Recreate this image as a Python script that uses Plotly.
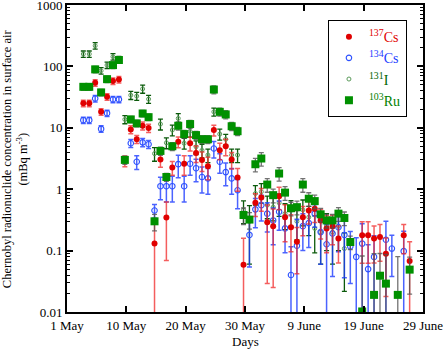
import plotly.graph_objects as go

# measurement days (day 0 = tick "1 May")
days = [2.75, 3.75, 4.75, 5.75, 6.75, 7.75, 8.75, 9.75, 10.75, 11.75,
        12.75, 13.75, 14.75, 15.75, 16.75, 17.75, 18.75, 19.75, 20.75, 21.75,
        22.75, 23.75, 24.75, 25.75, 26.75, 27.75, 28.75, 29.75, 30.75, 31.75,
        32.75, 33.75, 34.75, 35.75, 36.75, 37.75, 38.75, 39.75, 40.75, 41.75,
        42.75, 43.75, 44.75, 45.75, 46.75, 47.75, 48.75, 49.75, 50.75, 51.75,
        52.75, 53.75, 54.75, 55.75, 56.75, 57.75]

# concentrations (mBq m^-3), None = no measurement
cs137 = [25, 25, 54, 18.2, 32, 57.7, 61, 2.9, 9.4, 6.5,
         10.8, 9.9, 0.13, 3.05, 0.345, 2.26, 5.9, 2.6, 5.6, 3.9,
         3.0, 2.37, 9.2, 4.3, 5.0, 3.05, 1.55, 0.059, None, 0.60,
         0.73, 0.29, 0.25, 0.77, 0.35, 0.24, 0.14, 0.35, 0.45, 0.48,
         0.31, 0.23, 0.25, 0.157, None, None, None, 0.178, 0.178, 0.157,
         0.167, 0.089, None, None, 0.178, 0.068]
cs137_err_pct = [12, 12, 12, 12, 12, 12, 12, 20, 15, 15,
                 15, 15, 110, 25, 80, 25, 20, 35, 25, 30,
                 35, 40, 20, 30, 30, 30, 40, 170, 0, 40,
                 40, 90, 90, 40, 60, 60, 70, 50, 40, 40,
                 50, 60, 50, 60, 0, 0, 0, 65, 65, 60,
                 60, 80, 0, 0, 50, 105]

cs134 = [13.3, 13.3, 30, 9.6, 17.3, 29, 29, None, 5.6, 2.8,
         5.8, 5.4, 0.45, 1.12, 1.12, 1.12, 2.56, 1.12, 2.6, 2.2,
         1.58, 1.5, 4.6, 2.8, 1.9, 1.5, 0.96, None, 0.18, 0.47,
         0.55, 0.40, 0.31, 0.43, 0.23, 0.040, 0.12, 0.25, 0.28, 0.40,
         0.20, 0.127, 0.19, 0.24, 0.18, 0.117, 0.079, 0.13, 0.050, 0.079,
         None, 0.15, 0.108, None, 0.098, None]
cs134_err_pct = [12, 12, 12, 12, 12, 12, 12, 0, 15, 25,
                 15, 15, 25, 40, 45, 45, 40, 45, 35, 40,
                 45, 45, 30, 35, 40, 45, 50, 0, 70, 50,
                 45, 50, 60, 50, 60, 190, 170, 60, 60, 40,
                 70, 110, 80, 60, 80, 75, 105, 110, 150, 120,
                 0, 100, 65, 0, 110, 0]

i131 = [159, 159, 217, 85, 105, 144, 130, 13.7, 34, 32.8,
        43, 29.3, 3.8, 11.5, 5.7, 9.2, 14.2, 5.6, 8.8, 4.9,
        4.3, 3.6, 18.2, 7.9, 6.5, 3.6, 3.6, 0.46, 0.3, 0.85,
        0.91, 0.55, 0.51, 0.6, 0.4, 0.45, 0.3, 0.46, 0.35, 0.23,
        0.2, 0.25, 0.2, 0.25, 0.108, None, None, None, None, None,
        None, None, None, None, None, None]
i131_err_pct = [12, 12, 12, 12, 12, 12, 12, 15, 15, 15,
                15, 15, 25, 20, 20, 20, 20, 20, 20, 25,
                25, 25, 15, 20, 20, 25, 25, 40, 80, 35,
                35, 40, 40, 40, 45, 45, 50, 45, 50, 60,
                70, 60, 70, 60, 80, 0, 0, 0, 0, 0,
                0, 0, 0, 0, 0, 0]

ru103 = [46.5, 46.5, 89.5, 37.7, 62, 105, 127, 3.0, 13.7, 11.8,
         17.1, 14.9, 0.30, 4.2, 1.58, 5.0, 10.8, 7.9, 11.5, 7.6,
         6.5, 6.5, 42, 18.2, 16.5, 10.6, 8.8, 0.38, 0.32, 2.55,
         3.16, 1.19, 0.80, 1.8, 0.88, 0.49, 0.51, 1.19, 0.70, 0.64,
         0.39, 0.31, 0.31, 0.40, 0.34, 0.138, None, 0.0102, None, 0.019,
         0.039, 0.029, None, 0.019, None, 0.049]
ru103_err_pct = [12, 12, 12, 12, 12, 12, 12, 15, 12, 12,
                 12, 12, 30, 15, 15, 15, 15, 15, 15, 15,
                 15, 15, 15, 15, 15, 15, 15, 30, 30, 25,
                 25, 25, 25, 25, 25, 25, 25, 25, 25, 25,
                 25, 25, 25, 25, 25, 25, 0, 700, 0, 370,
                 130, 200, 0, 320, 0, 60]

x_tickvals = [0, 10, 20, 30, 40, 50, 60]
x_ticktext = ["1 May", "10 May", "20 May", "30 May", "9 June", "19 June", "29 June"]

FONT = "Liberation Serif"


def errs(vals, pct):
    return [None if v is None else v * p / 100.0 for v, p in zip(vals, pct)]


fig = go.Figure()

fig.add_trace(go.Scatter(
    x=days, y=i131, mode="markers", name="<span style='color:#006400'><sup>131</sup>I</span>",
    marker=dict(symbol="circle-open", size=4, color="#5a9a5a", line=dict(width=1)),
    error_y=dict(type="data", array=errs(i131, i131_err_pct), color="#0b5a0b", thickness=1.3, width=2.5),
    legendrank=3,
))
fig.add_trace(go.Scatter(
    x=days, y=cs134, mode="markers", name="<span style='color:#1c3cff'><sup>134</sup>Cs</span>",
    marker=dict(symbol="circle-open", size=5.5, color="#2b50ff", line=dict(width=1.1)),
    error_y=dict(type="data", array=errs(cs134, cs134_err_pct), color="rgba(30,60,255,0.8)", thickness=1.5, width=2.5),
    legendrank=2,
))
fig.add_trace(go.Scatter(
    x=days, y=cs137, mode="markers", name="<span style='color:#e00000'><sup>137</sup>Cs</span>",
    marker=dict(symbol="circle", size=6, color="#e00000"),
    error_y=dict(type="data", array=errs(cs137, cs137_err_pct), color="rgba(240,40,40,0.75)", thickness=1.5, width=2.5),
    legendrank=1,
))
fig.add_trace(go.Scatter(
    x=days, y=ru103, mode="markers", name="<span style='color:#008000'><sup>103</sup>Ru</span>",
    marker=dict(symbol="square", size=8, color="#009000"),
    error_y=dict(type="data", array=errs(ru103, ru103_err_pct), color="rgba(80,80,80,0.8)", thickness=1.3, width=2.5),
    legendrank=4,
))

axis_common = dict(
    showline=True, linecolor="black", linewidth=2, mirror="ticks",
    ticks="inside", tickcolor="black", tickwidth=1.5, ticklen=6,
    showgrid=False, zeroline=False, automargin=False, ticklabeloverflow="allow",
    tickfont=dict(family=FONT, size=13, color="black"),
)

fig.update_xaxes(range=[0, 60], tickvals=x_tickvals, ticktext=x_ticktext, **axis_common)
fig.update_yaxes(type="log", range=[-2, 3], dtick=1, exponentformat="none",
                 minor=dict(ticks="inside", ticklen=3, tickcolor="black", tickwidth=1, dtick="D1", showgrid=False),
                 **axis_common)

fig.update_layout(
    width=445, height=349,
    margin=dict(l=67, r=22, t=5, b=37),
    paper_bgcolor="white", plot_bgcolor="white",
    font=dict(family=FONT, size=13, color="black"),
    showlegend=True,
    legend=dict(x=0.733, y=0.951, xanchor="left", yanchor="top",
                bordercolor="black", borderwidth=1, bgcolor="white",
                font=dict(family=FONT, size=14), itemwidth=30,
                tracegroupgap=0),
    annotations=[
        dict(text="Days", xref="paper", yref="paper", x=0.5, y=-0.096,
             xanchor="center", yanchor="middle", showarrow=False,
             font=dict(family=FONT, size=13)),
        dict(text="Chernobyl radionuclide concentration in surface air<br>(mBq m<sup>-3</sup>)",
             xref="paper", yref="paper", x=-0.147, y=0.5, textangle=-90,
             xanchor="center", yanchor="middle", showarrow=False,
             font=dict(family=FONT, size=12.5)),
    ],
)

fig.write_html("out.html", config={"displayModeBar": False},
               post_script="document.body.style.margin='0';document.body.style.overflow='hidden';")
